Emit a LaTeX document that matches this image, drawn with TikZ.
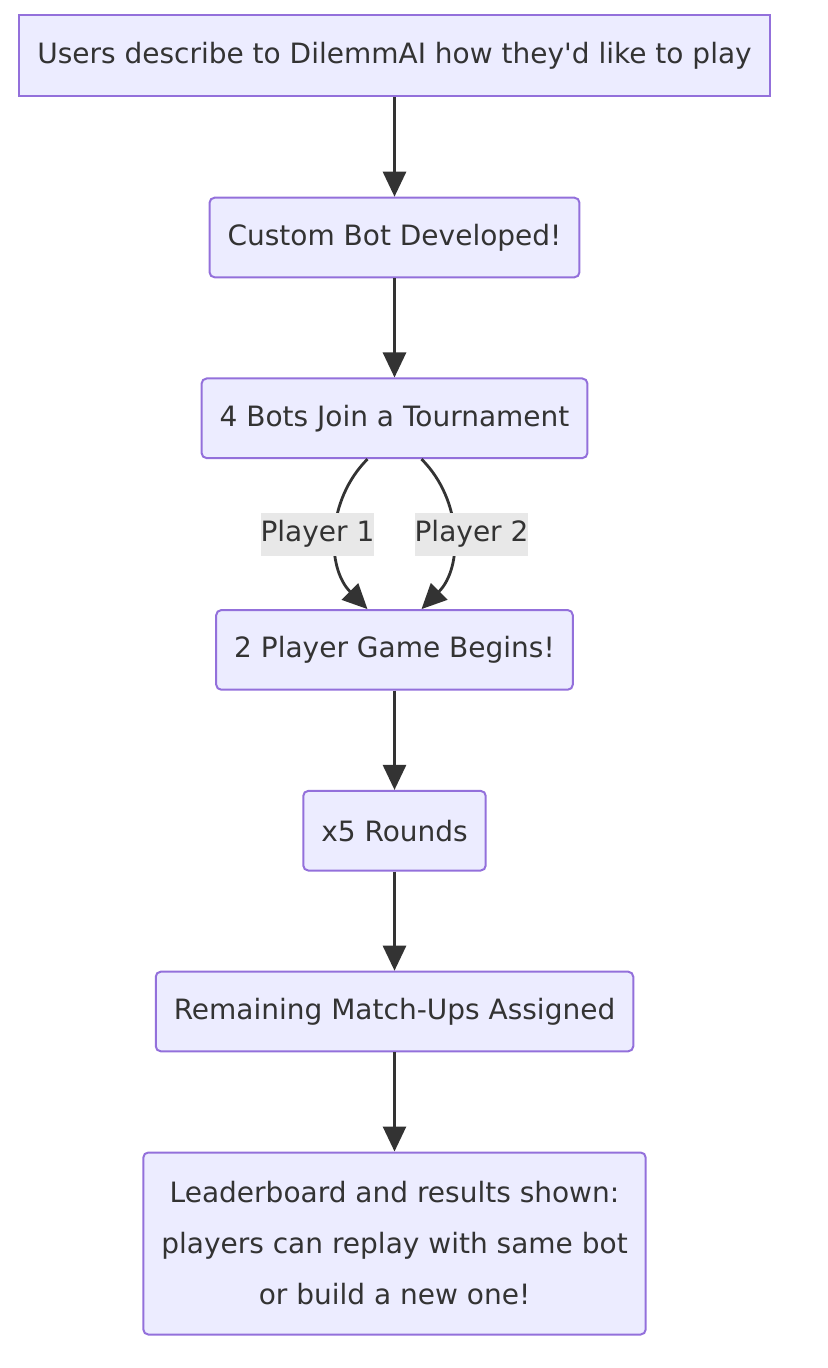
\documentclass[tikz,border=0pt]{standalone}
\usepackage{fontspec}
\setmainfont{DejaVu Sans}
\usepackage{tikz}
\usetikzlibrary{arrows.meta}
\usetikzlibrary{positioning}

\definecolor{boxfill}{HTML}{ECECFF}
\definecolor{boxline}{HTML}{9370DB}
\definecolor{ink}{HTML}{333333}
\definecolor{lblfill}{HTML}{E8E8E8}

\tikzset{
  box/.style={draw=boxline, fill=boxfill, line width=1pt, rounded corners=2.5pt,
    text=ink, align=center, inner xsep=9pt, inner ysep=0pt, minimum height=39.8pt,
    font=\fontsize{14pt}{25.5pt}\selectfont},
  sqbox/.style={box, rounded corners=0pt, minimum height=40.5pt},
  lbl/.style={fill=lblfill, text=ink, inner xsep=0pt, inner ysep=4pt,
    font=\fontsize{14pt}{17pt}\selectfont},
  arr/.style={draw=ink, line width=1.4pt, -{Triangle[length=12.5pt,width=11.5pt]}}
}

\begin{document}
\begin{tikzpicture}
  \useasboundingbox (0,0) rectangle (414pt,-684pt);

  \node (users) [sqbox] at (197.25pt,-28pt) {Users describe to DilemmAI how they\textquotesingle d like to play};
  \node (bot) [box, below=49.6pt of users] {Custom Bot Developed!};
  \node (join) [box, below=49.6pt of bot] {4 Bots Join a Tournament};
  \node (game) [box, below=75pt of join] {2 Player Game Begins!};
  \node (rounds) [box, below=49.6pt of game] {x5 Rounds};
  \node (assign) [box, below=49.6pt of rounds] {Remaining Match-Ups Assigned};
  \node (board) [box, below=49.6pt of assign, minimum height=91pt] {Leaderboard and results shown:\\players can replay with same bot\\or build a new one!};

  \draw [arr] (users) -- (bot);
  \draw [arr] (bot) -- (join);
  \draw [arr] ([xshift=-13.5pt]join.south) to[bend right=45] node[lbl, xshift=-9.5pt] {Player 1} ([xshift=-13.5pt]game.north);
  \draw [arr] ([xshift=13.5pt]join.south) to[bend left=45] node[lbl, xshift=9.5pt] {Player 2} ([xshift=13.5pt]game.north);
  \draw [arr] (game) -- (rounds);
  \draw [arr] (rounds) -- (assign);
  \draw [arr] (assign) -- (board);
\end{tikzpicture}
\end{document}
